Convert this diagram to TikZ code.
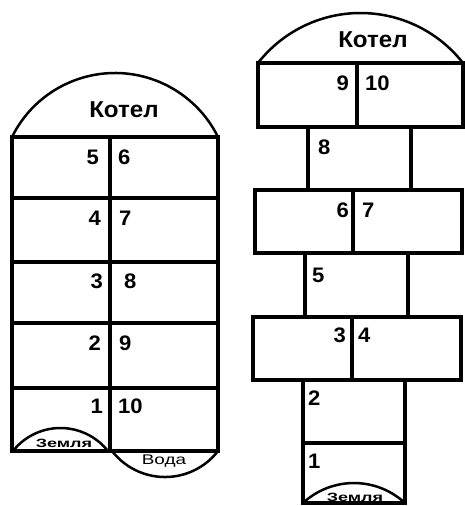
\documentclass[tikz,border=0pt]{standalone}
\usepackage{fontspec}
\setmainfont{Liberation Sans}
\begin{document}
\begin{tikzpicture}[x=1pt,y=1pt,
  box/.style={draw=black, line width=3.4pt},
  dome/.style={draw=black, line width=2.5pt},
  num/.style={font=\fontsize{21}{21}\selectfont\bfseries, inner sep=0pt, xscale=1.05},
  title/.style={font=\fontsize{23}{23}\selectfont\bfseries, inner sep=0pt, xscale=1.05},
  smalltxt/.style={font=\fontsize{12}{12}\selectfont\bfseries, inner sep=0pt, xscale=1.5},
  watertxt/.style={font=\fontsize{14}{14}\selectfont, inner sep=0pt, xscale=1.35}]
\path[use as bounding box, fill=white] (0,0) rectangle (465,506);

% ---------- left figure ----------
\node[title] (kl) at (124,396) {Котел};
\node[smalltxt] (zl) at (64,63) {Земля};
\node[watertxt] (vl) at (164,45) {Вода};
\draw[box] (12,55) rectangle (218,369);
\draw[box] (110,55) -- (110,369);
\foreach \yy in {308,244,183,118} \draw[box] (12,\yy) -- (218,\yy);
\draw[dome] (12,369) arc[start angle=153.7, end angle=26.3, radius=114.9];
\draw[dome] (13,55) arc[start angle=141.7, end angle=38.3, radius=60.5];
\draw[dome] (112,55) arc[start angle=217.7, end angle=322.3, radius=67];

\node[num, anchor=east] (l5) at (99,349) {5};
\node[num, anchor=west] (l6) at (118,349) {6};
\node[num, anchor=east] (l4) at (101,288) {4};
\node[num, anchor=west] (l7) at (119,288) {7};
\node[num, anchor=east] (l3) at (103,225) {3};
\node[num, anchor=west] (l8) at (124,225) {8};
\node[num, anchor=east] (l2) at (101,163) {2};
\node[num, anchor=west] (l9) at (119,163) {9};
\node[num, anchor=east] (l1) at (103,100) {1};
\node[num, anchor=west] (l10) at (118,100) {10};

% ---------- right figure ----------
\node[title] (kr) at (373,466) {Котел};
\node[smalltxt] (zr) at (355,9) {Земля};
\draw[box] (258,379) rectangle (463,443);
\draw[box] (357,379) -- (357,443);
\draw[box] (308,379) -- (308,316);
\draw[box] (411,379) -- (411,316);
\draw[box] (255,253) rectangle (462,316);
\draw[box] (353,253) -- (353,316);
\draw[box] (305,253) -- (305,189);
\draw[box] (408,253) -- (408,189);
\draw[box] (253,126) rectangle (461,189);
\draw[box] (352,126) -- (352,189);
\draw[box] (303,126) -- (303,3) -- (405,3) -- (405,126);
\draw[box] (303,63) -- (405,63);
\draw[dome] (258,443) arc[start angle=142.0, end angle=38.0, radius=130.06];
\draw[dome] (303,3) arc[start angle=132.8, end angle=47.2, radius=75];

\node[num, anchor=east] (r9) at (349,423) {9};
\node[num, anchor=west] (r10) at (365,423) {10};
\node[num, anchor=west] (r8) at (318,359) {8};
\node[num, anchor=east] (r6) at (349,296) {6};
\node[num, anchor=west] (r7) at (362,296) {7};
\node[num, anchor=west] (r5) at (312,231) {5};
\node[num, anchor=east] (r3) at (346,171) {3};
\node[num, anchor=west] (r4) at (358,171) {4};
\node[num, anchor=west] (r2) at (308,108) {2};
\node[num, anchor=west] (r1) at (308,45) {1};
\end{tikzpicture}
\end{document}
